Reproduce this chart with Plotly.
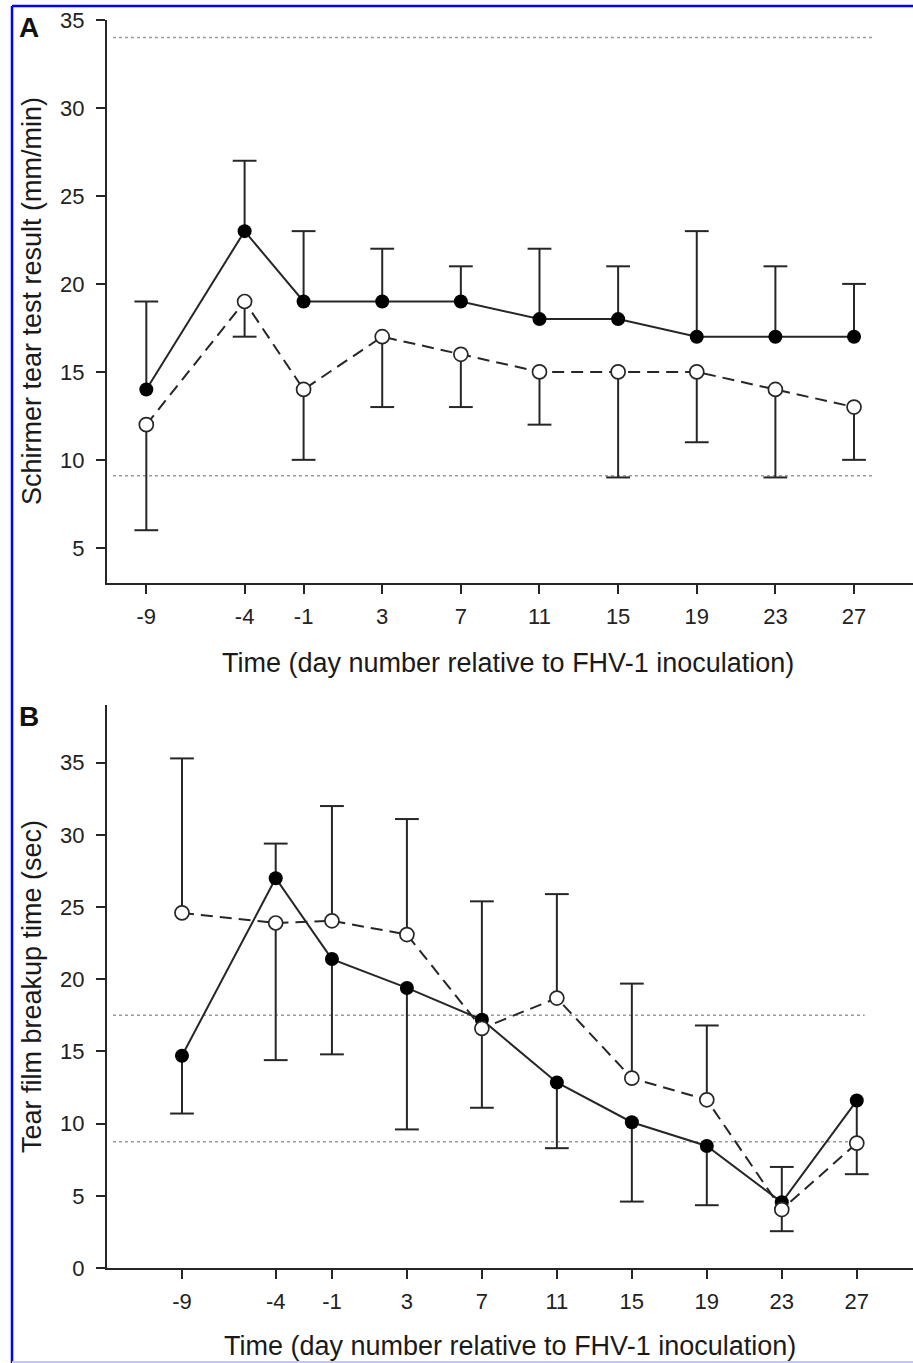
import plotly.graph_objects as go

# ---- data -------------------------------------------------------------
days = [-9, -4, -1, 3, 7, 11, 15, 19, 23, 27]
tick_labels = ["-9", "-4", "-1", "3", "7", "11", "15", "19", "23", "27"]

# Panel A: Schirmer tear test (mm/min)
stt_filled = [14, 23, 19, 19, 19, 18, 18, 17, 17, 17]
stt_filled_upper = [19, 27, 23, 22, 21, 22, 21, 23, 21, 20]
stt_open = [12, 19, 14, 17, 16, 15, 15, 15, 14, 13]
stt_open_lower = [6, 17, 10, 13, 13, 12, 9, 11, 9, 10]
stt_reference = [34, 9.1]
stt_ticks = [5, 10, 15, 20, 25, 30, 35]

# Panel B: tear film breakup time (sec)
tbut_filled = [14.7, 27.0, 21.4, 19.4, 17.2, 12.85, 10.1, 8.45, 4.55, 11.6]
tbut_filled_bar_end = [10.7, 29.4, 14.8, 9.6, 25.4, 8.3, 4.6, 4.35, 7.0, 6.5]
tbut_open = [24.6, 23.9, 24.05, 23.1, 16.6, 18.7, 13.15, 11.65, 4.05, 8.65]
tbut_open_bar_end = [35.3, 14.4, 32.0, 31.1, 11.1, 25.9, 19.7, 16.8, 2.55, None]
tbut_reference = [17.5, 8.75]
tbut_ticks = [0, 5, 10, 15, 20, 25, 30, 35]

# ---- styling ----------------------------------------------------------
W, H = 913, 1363
INK = "#262626"
FONT = "Arial, 'Liberation Sans', Helvetica, sans-serif"


def px_x(p):
    return p / W


def px_y(p):
    return 1 - p / H


fig = go.Figure()


def add_bars(means, ends, xa, ya):
    """Whiskers from each mean to its bar end, with a horizontal cap."""
    xs, ys, plus, minus, cx, cy = [], [], [], [], [], []
    for d, m, e in zip(days, means, ends):
        if e is None:
            continue
        xs.append(d)
        ys.append(m)
        plus.append(max(e - m, 0))
        minus.append(max(m - e, 0))
        cx.append(d)
        cy.append(e)
    fig.add_trace(go.Scatter(
        x=xs, y=ys, mode="markers", xaxis=xa, yaxis=ya,
        marker=dict(size=1, opacity=0), showlegend=False, hoverinfo="skip",
        error_y=dict(type="data", symmetric=False, array=plus, arrayminus=minus,
                     color=INK, thickness=2, width=0),
    ))
    fig.add_trace(go.Scatter(
        x=cx, y=cy, mode="markers", xaxis=xa, yaxis=ya,
        marker=dict(symbol="line-ew", size=17, line=dict(width=2, color=INK)),
        showlegend=False, hoverinfo="skip",
    ))


def add_line(vals, dash, xa, ya):
    fig.add_trace(go.Scatter(
        x=days, y=vals, mode="lines", xaxis=xa, yaxis=ya,
        line=dict(color=INK, width=2, dash=dash), showlegend=False,
    ))


def add_markers(vals, filled, xa, ya):
    fig.add_trace(go.Scatter(
        x=days, y=vals, mode="markers", xaxis=xa, yaxis=ya,
        marker=dict(symbol="circle", size=14,
                    color="#000000" if filled else "#ffffff",
                    line=dict(color="#000000" if filled else INK,
                              width=0 if filled else 1.7)),
        showlegend=False,
    ))


DASH = "12px,7px"

# Panel A
add_bars(stt_filled, stt_filled_upper, "x", "y")
add_bars(stt_open, stt_open_lower, "x", "y")
add_line(stt_filled, "solid", "x", "y")
add_line(stt_open, DASH, "x", "y")
add_markers(stt_filled, True, "x", "y")
add_markers(stt_open, False, "x", "y")

# Panel B
add_bars(tbut_filled, tbut_filled_bar_end, "x2", "y2")
add_bars(tbut_open, tbut_open_bar_end, "x2", "y2")
add_line(tbut_filled, "solid", "x2", "y2")
add_line(tbut_open, DASH, "x2", "y2")
add_markers(tbut_filled, True, "x2", "y2")
add_markers(tbut_open, False, "x2", "y2")

# ---- axes -------------------------------------------------------------
axis_common = dict(
    showline=True, linecolor=INK, linewidth=2,
    ticks="outside", ticklen=9, tickwidth=2, tickcolor=INK,
    showgrid=False, zeroline=False, automargin=False,
    tickfont=dict(family=FONT, size=22, color="#222222"),
)

x_dom = [px_x(107), 1.0]
fig.update_layout(
    width=W, height=H,
    margin=dict(l=0, r=0, t=0, b=0, pad=0),
    paper_bgcolor="white", plot_bgcolor="white",
    showlegend=False,
    xaxis=dict(domain=x_dom, range=[-11, 30], tickvals=days, ticktext=tick_labels,
               anchor="y", ticklabelstandoff=4, **axis_common),
    yaxis=dict(domain=[px_y(583), px_y(20)], range=[3, 35], tickvals=stt_ticks,
               anchor="x", ticklabelstandoff=7, **axis_common),
    xaxis2=dict(domain=x_dom, range=[-13, 30], tickvals=days, ticktext=tick_labels,
                anchor="y2", ticklabelstandoff=4, **axis_common),
    yaxis2=dict(domain=[px_y(1268), px_y(705)], range=[0, 39], tickvals=tbut_ticks,
                anchor="x2", ticklabelstandoff=7, **axis_common),
)

# ---- reference (normal range) lines -----------------------------------
shapes = []
for v in stt_reference:
    shapes.append(dict(type="line", xref="x domain", yref="y", x0=0.0074, x1=0.950, y0=v, y1=v,
                       line=dict(color="#9a9a9a", width=1.5, dash="dot"), layer="below"))
for v in tbut_reference:
    shapes.append(dict(type="line", xref="x2 domain", yref="y2", x0=0.0074, x1=0.940, y0=v, y1=v,
                       line=dict(color="#9a9a9a", width=1.5, dash="dot"), layer="below"))

# page frame
shapes += [
    dict(type="line", xref="paper", yref="paper", x0=px_x(12), x1=1, y0=px_y(6), y1=px_y(6),
         line=dict(color="#0000ff", width=2.5)),
    dict(type="line", xref="paper", yref="paper", x0=px_x(12), x1=px_x(12), y0=0, y1=px_y(6),
         line=dict(color="#0000ff", width=2.5)),
    dict(type="line", xref="paper", yref="paper", x0=px_x(12), x1=1, y0=px_y(1362), y1=px_y(1362),
         line=dict(color="#c4c4ff", width=2)),
]
fig.update_layout(shapes=shapes)

# ---- text -------------------------------------------------------------
title_font = dict(family=FONT, size=27, color="#1a1a1a")
x_title = "Time (day number relative to FHV-1 inoculation)"
annotations = [
    dict(text="<b>A</b>", x=px_x(29), y=px_y(28), font=dict(family=FONT, size=28, color="#111111")),
    dict(text="<b>B</b>", x=px_x(29), y=px_y(716), font=dict(family=FONT, size=28, color="#111111")),
    dict(text="Schirmer tear test result (mm/min)", x=px_x(32), y=px_y(301), textangle=-90, font=title_font),
    dict(text="Tear film breakup time (sec)", x=px_x(32), y=px_y(987), textangle=-90, font=title_font),
    dict(text=x_title, x=px_x(508), y=px_y(663), font=title_font),
    dict(text=x_title, x=px_x(510), y=px_y(1346), font=title_font),
]
for a in annotations:
    a.update(xref="paper", yref="paper", showarrow=False, xanchor="center", yanchor="middle")
fig.update_layout(annotations=annotations)

fig.write_html("out.html")
